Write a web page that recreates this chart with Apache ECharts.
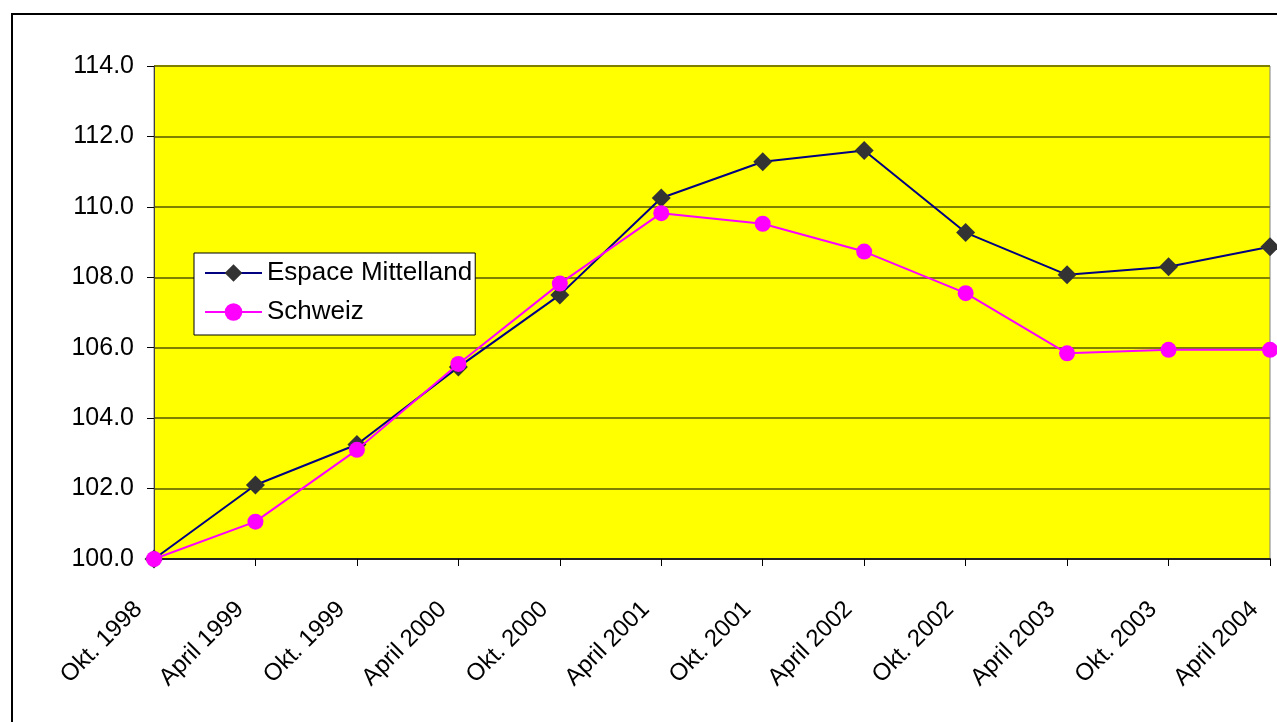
<!DOCTYPE html>
<html>
<head>
<meta charset="utf-8">
<script src="https://cdn.jsdelivr.net/npm/echarts@6/dist/echarts.min.js"></script>
<style>
html,body{margin:0;padding:0;background:#fff;}
#chart{width:1277px;height:722px;}
</style>
</head>
<body>
<div id="chart"></div>
<script>
const categories = ['Okt. 1998','April 1999','Okt. 1999','April 2000','Okt. 2000','April 2001','Okt. 2001','April 2002','Okt. 2002','April 2003','Okt. 2003','April 2004'];
const espaceMittelland = [100.0, 102.1, 103.25, 105.45, 107.5, 110.25, 111.28, 111.6, 109.27, 108.07, 108.3, 108.87];
const schweiz = [100.0, 101.06, 103.1, 105.54, 107.82, 109.82, 109.52, 108.73, 107.55, 105.84, 105.94, 105.94];
const yMin = 100, yMax = 114, yStep = 2;

const chart = echarts.init(document.getElementById('chart'), null, {renderer:'canvas'});
const font = 'Liberation Sans, Arial, sans-serif';
chart.setOption({
  animation:false,
  backgroundColor:'#ffffff',
  graphic:[{
    type:'rect', silent:true, z:-10,
    shape:{x:12,y:14,width:1400,height:800},
    style:{fill:'none', stroke:'#000', lineWidth:2}
  }],
  grid:{left:154, top:66, right:7, bottom:163, show:true, backgroundColor:'#FFFF00', borderColor:'#808080', borderWidth:1, containLabel:false},
  legend:{
    orient:'vertical', left:194, top:253,
    padding:[7,3,10,10], itemWidth:57, itemHeight:22, itemGap:13,
    backgroundColor:'#ffffff', borderColor:'#000', borderWidth:1, borderRadius:0,
    textStyle:{fontFamily:font, fontSize:26, color:'#000'},
    data:['Espace Mittelland','Schweiz']
  },
  xAxis:{
    type:'category', data:categories, boundaryGap:false,
    axisLine:{lineStyle:{color:'#222', width:2}},
    axisTick:{show:true, length:7, lineStyle:{color:'#000', width:1}},
    axisLabel:{rotate:45, interval:0, margin:31, padding:[0,22,0,0], fontFamily:font, fontSize:24, color:'#000'},
    splitLine:{show:false}
  },
  yAxis:{
    type:'value', min:yMin, max:yMax, interval:yStep,
    axisLine:{show:true, lineStyle:{color:'#404040', width:1}},
    axisTick:{show:true, length:7, lineStyle:{color:'#000'}},
    axisLabel:{margin:20, fontFamily:font, fontSize:25, color:'#000', formatter:v=>v.toFixed(1)},
    splitLine:{show:true, lineStyle:{color:'#808000', width:2}}
  },
  series:[
    {name:'Espace Mittelland', type:'line', data:espaceMittelland, symbol:'diamond', symbolSize:19,
     lineStyle:{color:'#000080', width:2}, itemStyle:{color:'#333333'}, color:'#333333', z:3},
    {name:'Schweiz', type:'line', data:schweiz, symbol:'circle', symbolSize:16,
     lineStyle:{color:'#FF00FF', width:2}, itemStyle:{color:'#FF00FF'}, z:4}
  ]
});
</script>
</body>
</html>
